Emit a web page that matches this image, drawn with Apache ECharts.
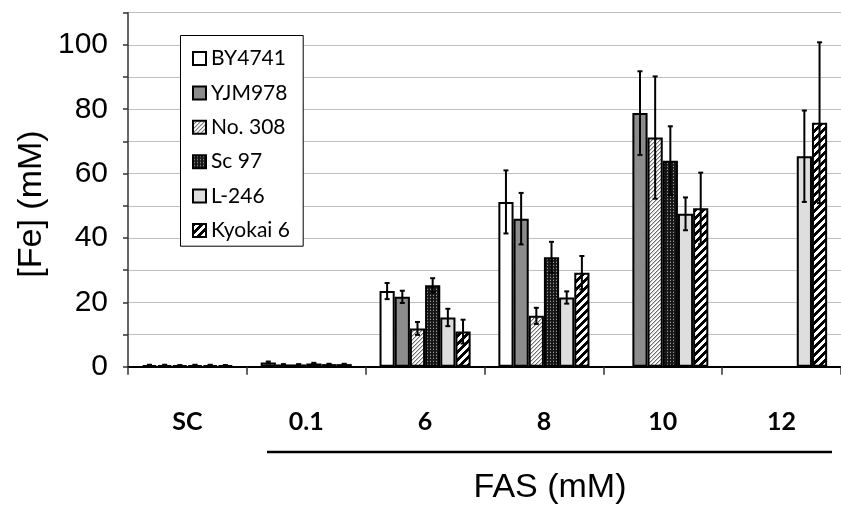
<!DOCTYPE html>
<html>
<head>
<meta charset="utf-8">
<script src="https://cdn.jsdelivr.net/npm/echarts@6/dist/echarts.min.js"></script>
<style>
html,body{margin:0;padding:0;background:#fff;}
#chart{width:841px;height:508px;}
</style>
</head>
<body>
<div id="chart"></div>
<script>
// ---- data ----
const categories = ['SC', '0.1', '6', '8', '10', '12'];
const strains = ['BY4741', 'YJM978', 'No. 308', 'Sc 97', 'L-246', 'Kyokai 6'];
const BY4741  = [0.5, 1.3, 23.5, 51.2, null, null];
const YJM978  = [0.5, 0.7, 21.7, 46.0, 78.8, null];
const No308   = [0.4, 0.7, 11.9, 15.8, 71.2, null];
const Sc97    = [0.5, 1.0, 25.3, 34.0, 64.0, null];
const L246    = [0.5, 0.8, 15.3, 21.5, 47.5, 65.4];
const Kyokai6 = [0.4, 0.8, 10.9, 29.2, 49.2, 75.8];
const errBY4741  = [0.1, 0.3, 2.5, 9.8, null, null];
const errYJM978  = [0.1, 0.1, 1.9, 8.0, 13.0, null];
const errNo308   = [0.1, 0.1, 2.0, 2.5, 19.0, null];
const errSc97    = [0.1, 0.2, 2.2, 4.8, 10.7, null];
const errL246    = [0.1, 0.1, 2.7, 1.9, 5.1, 14.2];
const errKyokai6 = [0.1, 0.1, 3.7, 5.2, 11.1, 25.0];
const yTicks = [0, 20, 40, 60, 80, 100];

const values = [BY4741, YJM978, No308, Sc97, L246, Kyokai6];
const errors = [errBY4741, errYJM978, errNo308, errSc97, errL246, errKyokai6];

// ---- patterns ----
function makePattern(size, draw) {
  const c = document.createElement('canvas');
  c.width = size; c.height = size;
  const ctx = c.getContext('2d');
  draw(ctx, size);
  return { image: c, repeat: 'repeat' };
}
const patWhite = '#ffffff';
const patGray = '#8c8c8c';
const patFine = makePattern(4, (ctx, s) => {
  ctx.fillStyle = '#ffffff'; ctx.fillRect(0, 0, s, s);
  for (let i = 0; i < s; i++) {
    ctx.fillStyle = '#6e6e6e'; ctx.fillRect(i, s - 1 - i, 1, 1);
    ctx.fillStyle = '#c8c8c8'; ctx.fillRect((i + 1) % s, s - 1 - i, 1, 1);
  }
});
const patDots = makePattern(3, (ctx, s) => {
  ctx.fillStyle = '#161616'; ctx.fillRect(0, 0, s, s);
  ctx.fillStyle = '#9a9a9a'; ctx.fillRect(1, 1, 1, 1);
  ctx.fillStyle = '#3a3a3a'; ctx.fillRect(1, 0, 1, 1);
});
const patLight = '#dedede';
const patThick = makePattern(8, (ctx, s) => {
  ctx.fillStyle = '#ffffff'; ctx.fillRect(0, 0, s, s);
  ctx.fillStyle = '#000000';
  for (let i = 0; i < s; i++) {
    for (let k = 0; k < 4; k++) ctx.fillRect((i + k) % s, s - 1 - i, 1, 1);
  }
});
const fills = [patWhite, patGray, patFine, patDots, patLight, patThick];

const gapRatio = 0.2333;

const barSeries = strains.map((name, i) => ({
  name: name,
  type: 'bar',
  data: values[i],
  barGap: '0%',
  barCategoryGap: (gapRatio * 100) + '%',
  itemStyle: { color: fills[i], borderColor: '#000', borderWidth: 2 },
  emphasis: { disabled: true },
  z: 2
}));

const errData = [];
strains.forEach((name, s) => {
  categories.forEach((c, ci) => {
    if (values[s][ci] != null && errors[s][ci] != null) {
      errData.push([ci, values[s][ci], errors[s][ci], s]);
    }
  });
});

const errSeries = {
  type: 'custom',
  name: 'err',
  data: errData,
  z: 5,
  silent: true,
  renderItem: function (params, api) {
    const c = api.value(0), v = api.value(1), e = api.value(2), s = api.value(3);
    const catW = api.size([1, 0])[0];
    const barW = catW * (1 - gapRatio) / strains.length;
    const x = api.coord([c, v])[0] + (s - (strains.length - 1) / 2) * barW;
    const yT = api.coord([c, v + e])[1];
    const yB = api.coord([c, Math.max(v - e, 0)])[1];
    const cap = 2.5;
    const st = { stroke: '#000', lineWidth: 2 };
    return {
      type: 'group',
      children: [
        { type: 'line', shape: { x1: x, y1: yT, x2: x, y2: yB }, style: st },
        { type: 'line', shape: { x1: x - cap, y1: yT, x2: x + cap, y2: yT }, style: st },
        { type: 'line', shape: { x1: x - cap, y1: yB, x2: x + cap, y2: yB }, style: st }
      ]
    };
  }
};

const chart = echarts.init(document.getElementById('chart'), null, { renderer: 'canvas' });
chart.setOption({
  animation: false,
  backgroundColor: '#ffffff',
  grid: { left: 128, right: -7, top: 12.7, bottom: 141.3, containLabel: false },
  legend: {
    data: strains,
    orient: 'vertical',
    left: 180, top: 35,
    padding: [13, 8, 6, 12],
    itemGap: 13.4,
    itemWidth: 13, itemHeight: 13,
    icon: 'rect',
    selectedMode: false,
    textStyle: { fontFamily: 'Lato', fontSize: 21, color: '#000', lineHeight: 20 },
    z: 10
  },
  xAxis: {
    type: 'category',
    data: categories,
    axisLine: { lineStyle: { color: '#000', width: 2 } },
    axisTick: { show: true, length: 8, interval: 0, lineStyle: { color: '#333', width: 1.5 } },
    axisLabel: { margin: 43, fontFamily: 'Lato', fontWeight: 'bold', fontSize: 25, color: '#000', interval: 0 },
    splitLine: { show: false }
  },
  yAxis: {
    type: 'value',
    min: 0, max: 110, interval: 10,
    axisLine: { show: true, lineStyle: { color: '#333', width: 1.5 } },
    axisTick: { show: true, length: 5, inside: false, lineStyle: { color: '#333', width: 1.5 } },
    axisLabel: {
      margin: 20, fontFamily: 'Liberation Sans', fontSize: 30, color: '#000',
      formatter: v => (yTicks.indexOf(v) >= 0 ? String(v) : '')
    },
    splitLine: { show: true, lineStyle: { color: '#bfbfbf', width: 1.2 } }
  },
  graphic: [
    { type: 'rect', left: 180, top: 35, shape: { width: 122.7, height: 210.7 },
      style: { fill: '#fff', stroke: '#000', lineWidth: 1 }, z: 8 },
    { type: 'text', x: 32, y: 204, rotation: Math.PI / 2, z: 10,
      style: { text: '[Fe] (mM)', fontFamily: 'Liberation Sans', fontSize: 34, fill: '#000',
               align: 'center', verticalAlign: 'middle' } },
    { type: 'line', shape: { x1: 267, y1: 452, x2: 832, y2: 452 },
      style: { stroke: '#000', lineWidth: 2.5 }, z: 10 },
    { type: 'text', x: 550, y: 488, z: 10,
      style: { text: 'FAS (mM)', fontFamily: 'Liberation Sans', fontSize: 34, fill: '#000',
               align: 'center', verticalAlign: 'middle' } }
  ],
  series: barSeries.concat([errSeries])
});
</script>
</body>
</html>
